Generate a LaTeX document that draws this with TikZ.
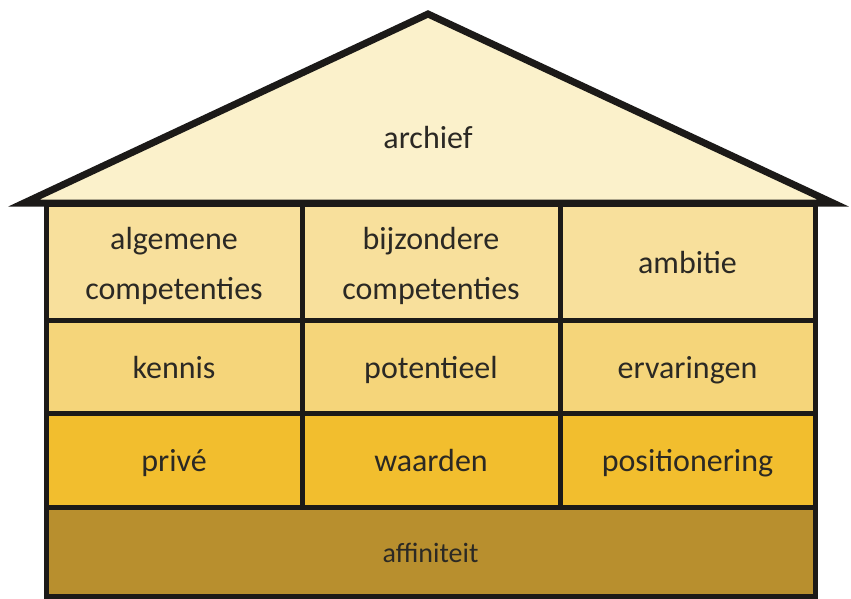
\documentclass[tikz,border=0pt]{standalone}
\usepackage{fontspec}
\setmainfont{Carlito}
\definecolor{linec}{HTML}{1C1A18}
\definecolor{textc}{HTML}{2B2924}
\definecolor{roofc}{HTML}{FBF1CB}
\definecolor{rowa}{HTML}{F8E09C}
\definecolor{rowb}{HTML}{F5D57A}
\definecolor{rowc}{HTML}{F2BE2E}
\definecolor{rowd}{HTML}{B88F2E}
\newcommand{\toprule}{\rule{0pt}{30pt}}
\tikzset{
  cell/.style={draw=linec, line width=5pt, inner sep=0pt, outer sep=0pt,
    text=textc, align=center, font=\fontsize{32}{50}\selectfont},
  oneline/.style={text height=30pt, text depth=7pt},
  rooflbl/.style={text=textc, font=\fontsize{32}{50}\selectfont, inner sep=0pt,
    text height=30pt, text depth=7pt}
}
\begin{document}
\begin{tikzpicture}[x=1pt,y=-1pt]
\useasboundingbox (0,0) rectangle (851,598);
% roof
\draw[fill=roofc, draw=linec, line width=7pt, line join=miter]
  (24,203) -- (428,14) -- (833,203) -- cycle;
\node[rooflbl] (roof) at (428,137) {archief};
% row 1
\node[cell, fill=rowa, minimum width=256, minimum height=116] (a1) at (174,262) {\toprule algemene\\competenties};
\node[cell, fill=rowa, minimum width=258, minimum height=116] (a2) at (431,262) {\toprule bijzondere\\competenties};
\node[cell, oneline, fill=rowa, minimum width=255, minimum height=116] (a3) at (687.5,262) {ambitie};
% row 2
\node[cell, oneline, fill=rowb, minimum width=256, minimum height=93] (b1) at (174,366.5) {kennis};
\node[cell, oneline, fill=rowb, minimum width=258, minimum height=93] (b2) at (431,366.5) {potentieel};
\node[cell, oneline, fill=rowb, minimum width=255, minimum height=93] (b3) at (687.5,366.5) {ervaringen};
% row 3
\node[cell, oneline, fill=rowc, minimum width=256, minimum height=94] (c1) at (174,460) {privé};
\node[cell, oneline, fill=rowc, minimum width=258, minimum height=94] (c2) at (431,460) {waarden};
\node[cell, oneline, fill=rowc, minimum width=255, minimum height=94] (c3) at (687.5,460) {positionering};
% base
\node[cell, fill=rowd, minimum width=769, minimum height=89, font=\fontsize{28}{34}\selectfont,
  text height=27pt, text depth=6pt] (d) at (430.5,551.5) {affiniteit};
\end{tikzpicture}
\end{document}
